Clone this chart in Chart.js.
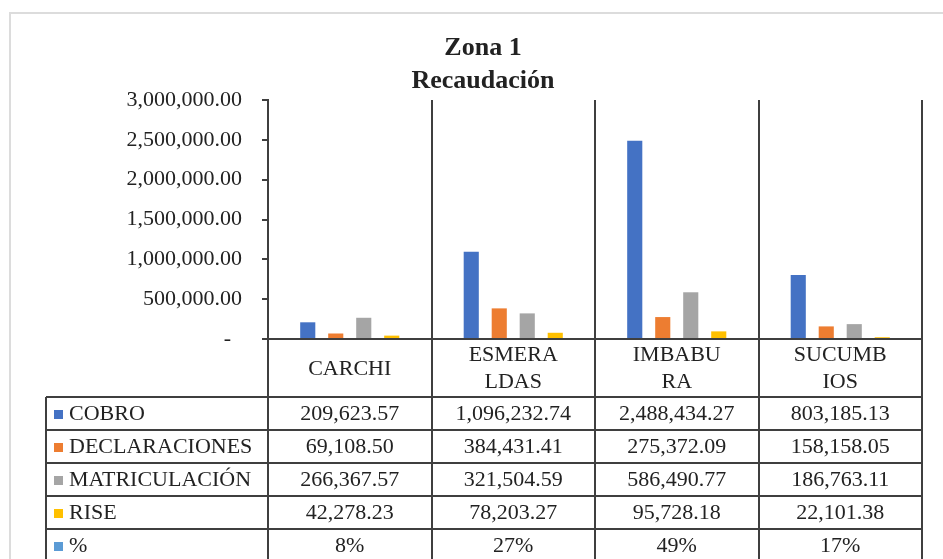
<!DOCTYPE html>
<html>
<head>
<meta charset="utf-8">
<script src="https://cdn.jsdelivr.net/npm/chart.js@4.4.0/dist/chart.umd.min.js"></script>
<style>
  html, body { margin: 0; padding: 0; background: #fff; }
  #chart { display: block; }
</style>
</head>
<body>
<canvas id="chart" width="943" height="559"></canvas>
<script>
const categories = ['CARCHI', 'ESMERALDAS', 'IMBABURA', 'SUCUMBIOS']
const headerLines = [['CARCHI'], ['ESMERA', 'LDAS'], ['IMBABU', 'RA'], ['SUCUMB', 'IOS']]
const cobro = [209623.57, 1096232.74, 2488434.27, 803185.13]
const declaraciones = [69108.50, 384431.41, 275372.09, 158158.05]
const matriculacion = [266367.57, 321504.59, 586490.77, 186763.11]
const rise = [42278.23, 78203.27, 95728.18, 22101.38]
const porcentaje = [8, 27, 49, 17]
const yTicks = [0, 500000, 1000000, 1500000, 2000000, 2500000, 3000000]

const textColor = '#222222'
const lineColor = '#3f3f3f'
const serif = "'Liberation Serif', 'Times New Roman', serif"

const fmt = (v) => v.toLocaleString('en-US', { minimumFractionDigits: 2, maximumFractionDigits: 2 })

const series = [
  { label: 'COBRO', data: cobro, color: '#4472C4' },
  { label: 'DECLARACIONES', data: declaraciones, color: '#ED7D31' },
  { label: 'MATRICULACIÓN', data: matriculacion, color: '#A5A5A5' },
  { label: 'RISE', data: rise, color: '#FFC000' },
]

// rows of the data table under the chart
const tableRows = series.map((s) => ({ label: s.label, color: s.color, cells: s.data.map(fmt) }))
tableRows.push({ label: '%', color: '#5B9BD5', cells: porcentaje.map((p) => p + '%') })

// title + data table + frame
const tablePlugin = {
  id: 'tablePlugin',
  beforeDraw(chart) {
    const ctx = chart.ctx
    ctx.save()
    ctx.strokeStyle = '#dcdcdc'
    ctx.lineWidth = 2
    ctx.strokeRect(10, 13, 1000, 700)
    ctx.restore()
  },
  afterDraw(chart) {
    const ctx = chart.ctx
    const area = chart.chartArea
    const x = chart.scales.x
    const n = categories.length
    const catW = (area.right - area.left) / n
    const tableLeft = 46
    const headTop = area.bottom
    const headBottom = headTop + 58
    const rowH = 33
    const bottom = chart.height + 5

    ctx.save()

    // title
    ctx.fillStyle = textColor
    ctx.textAlign = 'center'
    ctx.textBaseline = 'alphabetic'
    ctx.font = 'bold 26px ' + serif
    ctx.fillText('Zona 1', 483, 55)
    ctx.fillText('Recaudación', 483, 88)

    // lines
    ctx.strokeStyle = lineColor
    ctx.lineWidth = 2
    ctx.beginPath()
    for (let i = 0; i <= n; i++) {
      const px = Math.round(area.left + i * catW)
      ctx.moveTo(px, headTop)
      ctx.lineTo(px, bottom)
    }
    ctx.moveTo(tableLeft, headBottom)
    ctx.lineTo(tableLeft, bottom)
    for (let r = 0; r <= tableRows.length; r++) {
      const py = Math.round(headBottom + r * rowH)
      ctx.moveTo(tableLeft, py)
      ctx.lineTo(area.right, py)
    }
    ctx.stroke()

    // header cells
    ctx.font = '22px ' + serif
    ctx.textBaseline = 'middle'
    ctx.textAlign = 'center'
    const headMid = (headTop + headBottom) / 2
    headerLines.forEach((lines, i) => {
      const cx = x.getPixelForValue(i)
      const start = headMid - (lines.length - 1) * 13.5
      lines.forEach((t, j) => ctx.fillText(t, cx, start + j * 27 + 1))
    })

    // body rows
    tableRows.forEach((row, r) => {
      const cy = headBottom + r * rowH + rowH / 2 + 1
      ctx.fillStyle = row.color
      ctx.fillRect(54, Math.round(cy - 5), 9, 9)
      ctx.fillStyle = textColor
      ctx.textAlign = 'left'
      ctx.fillText(row.label, 69, cy)
      ctx.textAlign = 'center'
      row.cells.forEach((c, i) => ctx.fillText(c, x.getPixelForValue(i), cy))
    })

    ctx.restore()
  },
}

const config = {
  type: 'bar',
  data: {
    labels: categories,
    datasets: series.map((s) => ({
      label: s.label,
      data: s.data,
      backgroundColor: s.color,
      borderWidth: 0,
      categoryPercentage: 0.685,
      barPercentage: 0.54,
    })),
  },
  options: {
    responsive: false,
    animation: false,
    devicePixelRatio: 1,
    layout: {
      padding: { left: 10, right: 21, top: 100, bottom: 220 },
    },
    scales: {
      x: {
        afterFit: (s) => { s.height = 0 },
        ticks: { display: false },
        grid: {
          offset: true,
          color: lineColor,
          lineWidth: 2,
          drawTicks: false,
        },
        border: { color: lineColor, width: 2 },
      },
      y: {
        min: 0,
        max: 3000000,
        afterFit: (s) => { s.width = 258 },
        afterBuildTicks: (s) => { s.ticks = yTicks.map((v) => ({ value: v })) },
        ticks: {
          color: textColor,
          padding: 20,
          font: { family: serif, size: 22 },
          callback: (v) => (v === 0 ? '-  ' : fmt(v)),
        },
        grid: {
          drawOnChartArea: false,
          tickLength: 6,
          color: lineColor,
          lineWidth: 2,
        },
        border: { color: lineColor, width: 2 },
      },
    },
    plugins: {
      legend: { display: false },
      title: { display: false },
      tooltip: { enabled: false },
    },
  },
  plugins: [tablePlugin],
}

new Chart(document.getElementById('chart').getContext('2d'), config)
</script>
</body>
</html>
